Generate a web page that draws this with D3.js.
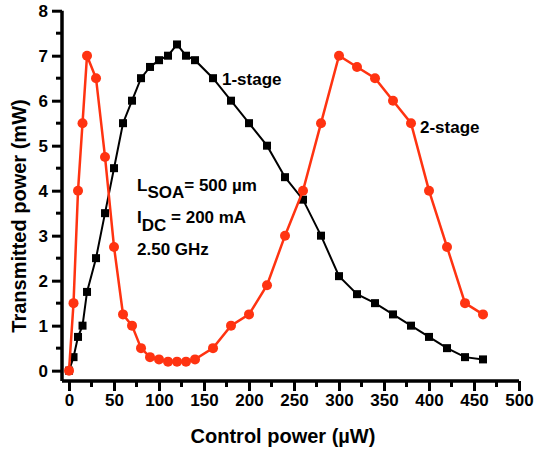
<!DOCTYPE html>
<html>
<head>
<meta charset="utf-8">
<script src="https://cdn.jsdelivr.net/npm/d3@7"></script>
<style>
  body { margin: 0; background: #fff; }
  svg text { font-family: "Liberation Sans", Arial, sans-serif; font-weight: bold; }
</style>
</head>
<body>
<div id="chart"></div>
<script>
// 1-stage (black squares)
const x1 = [0, 5, 10, 15, 20, 30, 40, 50, 60, 70, 80, 90, 100, 110, 120, 130, 140,
  160, 180, 200, 220, 240, 260, 280, 300, 320, 340, 360, 380, 400, 420, 440, 460];
const y1 = [0, 0.3, 0.75, 1.0, 1.75, 2.5, 3.5, 4.5, 5.5, 6.0, 6.5, 6.75, 6.9, 7.0, 7.25, 7.0, 6.9,
  6.5, 6.0, 5.5, 5.0, 4.3, 3.8, 3.0, 2.1, 1.7, 1.5, 1.25, 1.0, 0.75, 0.5, 0.3, 0.25];

// 2-stage (red circles)
const x2 = [0, 5, 10, 15, 20, 30, 40, 50, 60, 70, 80, 90, 100, 110, 120, 130, 140,
  160, 180, 200, 220, 240, 260, 280, 300, 320, 340, 360, 380, 400, 420, 440, 460];
const y2 = [0, 1.5, 4.0, 5.5, 7.0, 6.5, 4.75, 2.75, 1.25, 1.0, 0.5, 0.3, 0.25, 0.2, 0.2, 0.2, 0.25,
  0.5, 1.0, 1.25, 1.9, 3.0, 4.0, 5.5, 7.0, 6.75, 6.5, 6.0, 5.5, 4.0, 2.75, 1.5, 1.25];

const xTicks = [0, 50, 100, 150, 200, 250, 300, 350, 400, 450, 500];
const yTicks = [0, 1, 2, 3, 4, 5, 6, 7, 8];

const width = 534, height = 453;
const red = "#ff3311";

const svg = d3.select("#chart").append("svg")
  .attr("width", width)
  .attr("height", height);

const x = d3.scaleLinear().domain([-7.8, 500]).range([62, 519]);
const y = d3.scaleLinear().domain([-0.23, 8]).range([381, 10.7]);

// axes
const xAxis = d3.axisBottom(x).tickValues(xTicks).tickSize(10).tickPadding(3);
const yAxis = d3.axisLeft(y).tickValues(yTicks).tickSize(10).tickPadding(4);

const gx = svg.append("g").attr("transform", `translate(0,${y(-0.23)})`).call(xAxis);
const gy = svg.append("g").attr("transform", `translate(${x(-7.8)},0)`).call(yAxis);

// minor ticks
gx.selectAll(".minor").data(d3.range(25, 500, 50)).enter()
  .append("line").attr("class", "minor")
  .attr("x1", d => x(d)).attr("x2", d => x(d))
  .attr("y1", 0).attr("y2", 6)
  .attr("stroke", "#000").attr("stroke-width", 3);
gy.selectAll(".minor").data(d3.range(0.5, 8, 1)).enter()
  .append("line").attr("class", "minor")
  .attr("y1", d => y(d)).attr("y2", d => y(d))
  .attr("x1", 0).attr("x2", -6)
  .attr("stroke", "#000").attr("stroke-width", 3);

[gx, gy].forEach(g => {
  g.select(".domain").attr("stroke", "#000").attr("stroke-width", 3.5);
  g.selectAll(".tick line").attr("stroke", "#000").attr("stroke-width", 3);
  g.selectAll(".tick text").attr("fill", "#000").style("font-size", "17px");
});
gx.select(".domain").attr("d", `M${x(-7.8)},0H${x(500)}`);
gy.select(".domain").attr("d", `M0,${y(-0.23)}V${y(8)}`);

// series
const d1 = x1.map((v, i) => [v, y1[i]]);
const d2 = x2.map((v, i) => [v, y2[i]]);
const line = d3.line().x(d => x(d[0])).y(d => y(d[1]));

svg.append("path").datum(d1)
  .attr("fill", "none").attr("stroke", "#000").attr("stroke-width", 2)
  .attr("d", line);
svg.selectAll(".sq").data(d1).enter().append("rect")
  .attr("x", d => x(d[0]) - 4).attr("y", d => y(d[1]) - 4)
  .attr("width", 8).attr("height", 8).attr("fill", "#000");

svg.append("path").datum(d2)
  .attr("fill", "none").attr("stroke", red).attr("stroke-width", 2.5)
  .attr("d", line);
svg.selectAll(".dot").data(d2).enter().append("circle")
  .attr("cx", d => x(d[0])).attr("cy", d => y(d[1]))
  .attr("r", 5).attr("fill", red);

// labels
svg.append("text").attr("x", 222).attr("y", 85).style("font-size", "17px").text("1-stage");
svg.append("text").attr("x", 420).attr("y", 133).style("font-size", "17px").text("2-stage");

const t1 = svg.append("text").attr("x", 137).attr("y", 191).style("font-size", "17px");
t1.append("tspan").text("L");
t1.append("tspan").attr("dy", 7).text("SOA");
t1.append("tspan").attr("dy", -7).text("= 500 \u00b5m");

const t2 = svg.append("text").attr("x", 137).attr("y", 223).style("font-size", "17px");
t2.append("tspan").text("I");
t2.append("tspan").attr("dy", 8).text("DC");
t2.append("tspan").attr("dy", -8).text(" = 200 mA");

svg.append("text").attr("x", 137).attr("y", 255).style("font-size", "17px").text("2.50 GHz");

// axis titles
svg.append("text").attr("x", 283).attr("y", 443).attr("text-anchor", "middle")
  .style("font-size", "20px").text("Control power (\u00b5W)");
svg.append("text").attr("transform", "translate(26,216) rotate(-90)")
  .attr("text-anchor", "middle").style("font-size", "20px").text("Transmitted power (mW)");
</script>
</body>
</html>
